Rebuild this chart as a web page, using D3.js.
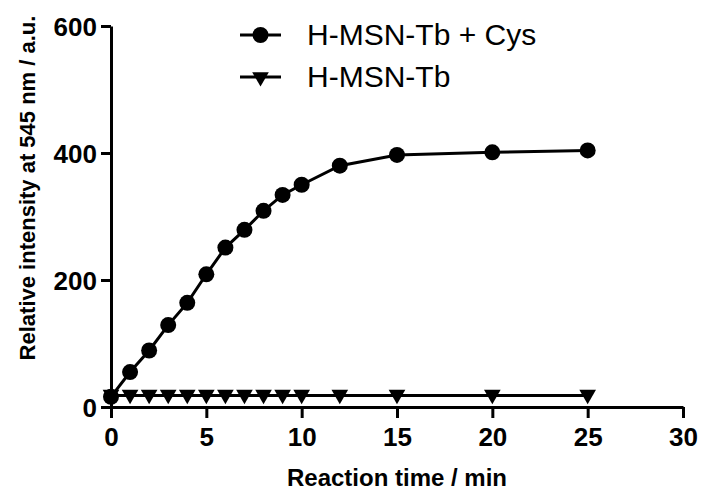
<!DOCTYPE html>
<html>
<head>
<meta charset="utf-8">
<script src="https://cdn.jsdelivr.net/npm/d3@7"></script>
<style>
  html, body { margin: 0; padding: 0; background: #fff; }
  svg { display: block; font-family: "Liberation Sans", Arial, sans-serif; }
</style>
</head>
<body>
<div id="chart"></div>
<script>
// Reaction time (min)
const timeCys = [0, 1, 2, 3, 4, 5, 6, 7, 8, 9, 10, 12, 15, 20, 25];
const valueCys = [16, 55, 89, 129, 164, 209, 251, 279, 309, 334, 350, 380, 397, 401, 404];

const timeTb = [0, 1, 2, 3, 4, 5, 6, 7, 8, 9, 10, 12, 15, 20, 25];
const valueTb = [18, 18, 18, 18, 18, 18, 18, 18, 18, 18, 18, 18, 18, 18, 18];

const xTicks = [0, 5, 10, 15, 20, 25, 30];
const yTicks = [0, 200, 400, 600];

const seriesNames = ["H-MSN-Tb + Cys", "H-MSN-Tb"];

const W = 702, H = 490;
const margin = { left: 111, right: 19, top: 26, bottom: 83 };

const svg = d3.select("#chart").append("svg")
    .attr("width", W)
    .attr("height", H);

const x = d3.scaleLinear().domain([0, 30]).range([margin.left, W - margin.right]);
const y = d3.scaleLinear().domain([0, 600]).range([H - margin.bottom, margin.top]);

// axes
const xAxis = svg.append("g")
    .attr("transform", `translate(0,${y(0)})`)
    .call(d3.axisBottom(x).tickValues(xTicks).tickSize(11).tickSizeOuter(0).tickPadding(10));

const yAxis = svg.append("g")
    .attr("transform", `translate(${x(0)},0)`)
    .call(d3.axisLeft(y).tickValues(yTicks).tickSize(10).tickSizeOuter(0).tickPadding(4));

svg.selectAll(".domain, .tick line")
    .attr("stroke", "#000")
    .attr("stroke-width", 3);

svg.selectAll(".tick text")
    .attr("fill", "#000")
    .style("font-size", "26px")
    .style("font-weight", "bold");

yAxis.selectAll(".tick text").attr("dy", "0.36em");

// axis titles
svg.append("text")
    .attr("x", (x(0) + x(30)) / 2)
    .attr("y", 486)
    .attr("text-anchor", "middle")
    .style("font-size", "24px")
    .style("font-weight", "bold")
    .text("Reaction time / min");

svg.append("text")
    .attr("transform", `translate(35,${188}) rotate(-90)`)
    .attr("text-anchor", "middle")
    .style("font-size", "22px")
    .style("font-weight", "bold")
    .text("Relative intensity at 545 nm / a.u.");

const line = d3.line().x(d => x(d[0])).y(d => y(d[1]));
const tri = d3.symbol().type(d3.symbolTriangle).size(120);

const dataTb = timeTb.map((t, i) => [t, valueTb[i]]);
const dataCys = timeCys.map((t, i) => [t, valueCys[i]]);

// H-MSN-Tb
svg.append("path")
    .datum(dataTb)
    .attr("d", line)
    .attr("fill", "none")
    .attr("stroke", "#000")
    .attr("stroke-width", 3);

svg.selectAll(".tri")
    .data(dataTb)
    .join("path")
    .attr("class", "tri")
    .attr("d", tri)
    .attr("transform", d => `translate(${x(d[0])},${y(d[1]) - 1}) rotate(180)`)
    .attr("fill", "#000");

// H-MSN-Tb + Cys
svg.append("path")
    .datum(dataCys)
    .attr("d", line)
    .attr("fill", "none")
    .attr("stroke", "#000")
    .attr("stroke-width", 3);

svg.selectAll(".dot")
    .data(dataCys)
    .join("circle")
    .attr("class", "dot")
    .attr("cx", d => x(d[0]))
    .attr("cy", d => y(d[1]))
    .attr("r", 8)
    .attr("fill", "#000");

// legend
const legend = svg.append("g");
const legendY = [35, 77];
seriesNames.forEach((name, i) => {
    const g = legend.append("g").attr("transform", `translate(240,${legendY[i]})`);
    g.append("line")
        .attr("x1", 0).attr("x2", 41)
        .attr("stroke", "#000")
        .attr("stroke-width", 3);
    if (i === 0) {
        g.append("circle").attr("cx", 20.5).attr("r", 8).attr("fill", "#000");
    } else {
        g.append("path").attr("d", tri).attr("transform", "translate(20.5,0) rotate(180)").attr("fill", "#000");
    }
    g.append("text")
        .attr("x", 67)
        .attr("y", 10)
        .style("font-size", "30px")
        .text(name);
});
</script>
</body>
</html>
